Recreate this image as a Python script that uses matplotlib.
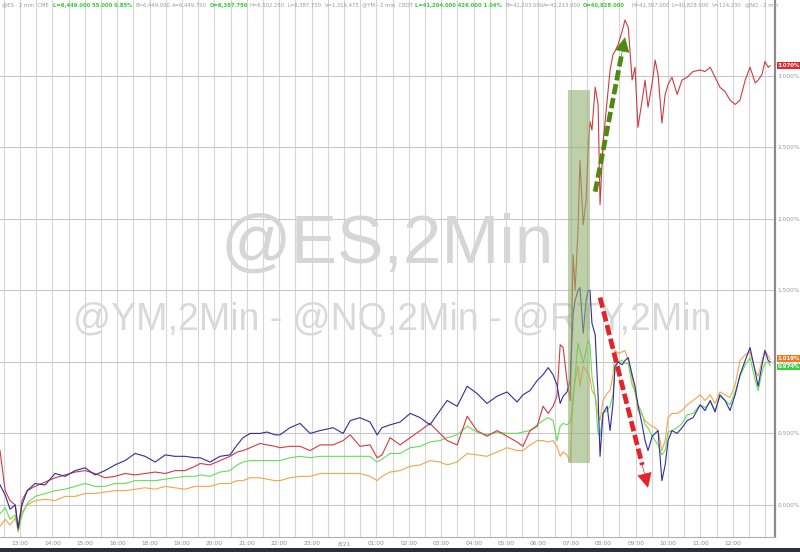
import matplotlib
matplotlib.use("Agg")
import matplotlib.pyplot as plt
import matplotlib.transforms as mtransforms
from matplotlib.patches import Rectangle

# trading hours since 13:00 (the 17:00-18:00 break is left out of the axis)
HOURS = [-0.62, -0.46, -0.31, -0.15, -0.06, 0.06, 0.22, 0.46, 0.77, 1.08,
         1.39, 1.70, 2.01, 2.31, 2.62, 2.93, 3.24, 3.55, 3.86, 4.17,
         4.48, 4.78, 5.09, 5.40, 5.56, 5.86, 6.17, 6.48, 6.70, 6.88,
         7.10, 7.41, 7.62, 7.87, 8.02, 8.33, 8.64, 8.95, 9.26, 9.66,
         9.97, 10.19, 10.49, 10.80, 11.02, 11.17, 11.42, 11.73, 12.04, 12.35,
         12.65, 12.96, 13.18, 13.49, 13.80, 14.10, 14.41, 14.72, 15.03, 15.34,
         15.52, 15.74, 15.96, 16.14, 16.30, 16.45, 16.57, 16.67, 16.76, 16.88,
         16.98, 17.07, 17.13, 17.22, 17.28, 17.38, 17.47, 17.53, 17.59, 17.65,
         17.75, 17.84, 17.90, 17.99, 18.12, 18.21, 18.30, 18.36, 18.46, 18.58,
         18.67, 18.77, 18.89, 18.98, 19.07, 19.20, 19.29, 19.38, 19.51, 19.60,
         19.69, 19.81, 19.91, 20.00, 20.12, 20.28, 20.43, 20.59, 20.77, 20.99,
         21.14, 21.30, 21.45, 21.60, 21.76, 21.91, 22.07, 22.22, 22.38, 22.53,
         22.69, 22.78, 22.90, 22.99, 23.09, 23.15]

# % change, one list per contract
RTY = [0.38, 0.10, 0.03, 0.00, -0.17, 0.03, 0.10, 0.13, 0.16, 0.19,
       0.21, 0.23, 0.24, 0.22, 0.19, 0.20, 0.22, 0.21, 0.22, 0.23,
       0.22, 0.24, 0.24, 0.27, 0.29, 0.28, 0.31, 0.34, 0.37, 0.38,
       0.40, 0.43, 0.42, 0.41, 0.40, 0.41, 0.41, 0.38, 0.42, 0.42,
       0.45, 0.49, 0.41, 0.42, 0.33, 0.35, 0.47, 0.42, 0.47, 0.52,
       0.57, 0.50, 0.45, 0.42, 0.62, 0.52, 0.48, 0.52, 0.48, 0.44,
       0.41, 0.52, 0.55, 0.69, 0.64, 0.69, 0.76, 1.12, 1.10, 0.87,
       0.73, 1.75, 1.50, 1.92, 2.41, 1.96, 2.13, 2.48, 2.68, 2.62,
       2.92, 2.80, 2.10, 2.52, 2.83, 3.04, 3.15, 3.17, 3.22, 3.31,
       3.39, 3.34, 2.97, 3.06, 2.64, 2.83, 2.97, 2.78, 2.95, 3.11,
       3.01, 2.67, 2.87, 2.94, 2.99, 2.87, 2.97, 2.99, 3.03, 3.04,
       3.03, 3.06, 2.99, 2.92, 2.89, 2.83, 2.80, 2.83, 2.97, 3.06,
       2.95, 2.97, 3.01, 3.10, 3.06, 3.07]

NQ = [0.14, 0.07, -0.03, 0.00, -0.16, 0.00, 0.10, 0.15, 0.14, 0.22,
      0.20, 0.24, 0.26, 0.21, 0.24, 0.28, 0.31, 0.36, 0.34, 0.30,
      0.35, 0.34, 0.34, 0.33, 0.33, 0.30, 0.34, 0.35, 0.42, 0.47,
      0.50, 0.50, 0.51, 0.49, 0.49, 0.54, 0.57, 0.50, 0.52, 0.54,
      0.50, 0.59, 0.61, 0.58, 0.49, 0.54, 0.56, 0.58, 0.64, 0.61,
      0.56, 0.66, 0.73, 0.69, 0.83, 0.78, 0.71, 0.76, 0.79, 0.72,
      0.77, 0.80, 0.87, 0.91, 0.96, 0.91, 0.84, 0.71, 0.76, 0.79,
      0.87, 1.34, 1.43, 1.50, 1.52, 1.20, 1.43, 1.50, 1.50, 1.27,
      1.19, 0.76, 0.34, 0.64, 0.69, 0.52, 0.71, 0.97, 1.00, 0.98,
      1.01, 1.03, 0.91, 0.83, 0.70, 0.56, 0.45, 0.38, 0.48, 0.50,
      0.52, 0.17, 0.28, 0.45, 0.52, 0.50, 0.54, 0.59, 0.61, 0.70,
      0.66, 0.73, 0.65, 0.77, 0.73, 0.66, 0.77, 0.91, 1.01, 1.10,
      0.93, 0.83, 0.98, 1.08, 1.01, 1.00]

ES = [-0.06, -0.02, -0.10, -0.07, -0.19, -0.07, 0.01, 0.06, 0.08, 0.10,
      0.11, 0.13, 0.15, 0.13, 0.13, 0.15, 0.15, 0.17, 0.17, 0.17,
      0.18, 0.19, 0.20, 0.20, 0.21, 0.20, 0.23, 0.24, 0.28, 0.30,
      0.31, 0.31, 0.31, 0.31, 0.31, 0.33, 0.34, 0.33, 0.34, 0.34,
      0.34, 0.34, 0.34, 0.34, 0.30, 0.32, 0.36, 0.36, 0.40, 0.41,
      0.44, 0.45, 0.47, 0.49, 0.55, 0.51, 0.49, 0.51, 0.50, 0.50,
      0.51, 0.52, 0.56, 0.59, 0.61, 0.59, 0.45, 0.55, 0.57, 0.56,
      0.58, 0.73, 0.90, 1.13, 1.08, 0.99, 1.08, 1.15, 1.12, 0.90,
      0.76, 0.50, 0.48, 0.64, 0.66, 0.69, 0.77, 0.94, 1.00, 1.01,
      0.99, 0.99, 0.84, 0.79, 0.70, 0.64, 0.56, 0.54, 0.48, 0.45,
      0.42, 0.35, 0.38, 0.51, 0.52, 0.54, 0.57, 0.63, 0.64, 0.70,
      0.68, 0.72, 0.66, 0.76, 0.73, 0.70, 0.79, 0.90, 0.98, 1.03,
      0.87, 0.80, 0.93, 0.99, 1.00, 0.974]

YM = [-0.15, -0.10, -0.14, -0.09, -0.17, -0.05, 0.00, 0.03, 0.04, 0.03,
      0.06, 0.06, 0.08, 0.08, 0.09, 0.10, 0.10, 0.11, 0.12, 0.11,
      0.13, 0.12, 0.11, 0.13, 0.13, 0.13, 0.15, 0.15, 0.17, 0.17,
      0.19, 0.19, 0.18, 0.17, 0.17, 0.19, 0.20, 0.20, 0.22, 0.22,
      0.22, 0.22, 0.22, 0.20, 0.17, 0.20, 0.23, 0.24, 0.27, 0.28,
      0.31, 0.30, 0.28, 0.30, 0.36, 0.35, 0.34, 0.37, 0.40, 0.38,
      0.38, 0.42, 0.45, 0.45, 0.44, 0.45, 0.41, 0.34, 0.37, 0.35,
      0.30, 0.76, 0.87, 0.97, 0.83, 0.97, 0.94, 0.92, 0.89, 0.80,
      0.76, 0.63, 0.59, 0.73, 0.78, 0.80, 0.91, 1.08, 1.06, 1.07,
      1.08, 1.01, 0.89, 0.79, 0.66, 0.63, 0.59, 0.57, 0.55, 0.54,
      0.52, 0.38, 0.45, 0.61, 0.64, 0.64, 0.66, 0.70, 0.73, 0.77,
      0.73, 0.77, 0.71, 0.79, 0.77, 0.75, 0.84, 1.01, 1.05, 1.07,
      0.94, 0.90, 1.01, 1.08, 1.04, 1.019]

TICK_LABELS = ["13:00", "14:00", "15:00", "16:00", "18:00", "19:00", "20:00",
               "21:00", "22:00", "23:00", "8/21", "01:00", "02:00", "03:00",
               "04:00", "05:00", "06:00", "07:00", "08:00", "09:00", "10:00",
               "11:00", "12:00"]
Y_TICKS = [0.0, 0.5, 1.0, 1.5, 2.0, 2.5, 3.0]

# highlighted window and the two hand-drawn arrows (hours, %)
SHADE_X = (16.91, 17.59)
SHADE_Y = (0.29, 2.90)
ARROW_UP = ((17.75, 2.19), (18.67, 3.27))
ARROW_DOWN = ((17.90, 1.45), (19.38, 0.12))

# last-value badges
BADGES = [("3.070%", 3.07, "#e3262e"), ("1.019%", 1.025, "#f07a22"),
          ("0.974%", 0.965, "#3ccf3c")]

HEADER = [
    ("@ES - 2 min  CME", 2, "#9a9a9a"),
    ("L=6,449.000 55.000 0.85%", 53, "#33cc33"),
    ("B=6,449.000", 136, "#9a9a9a"),
    ("A=6,449.750", 172, "#9a9a9a"),
    ("O=6,387.750", 210, "#33cc33"),
    ("H=6,502.250", 250, "#9a9a9a"),
    ("L=6,387.750", 287, "#9a9a9a"),
    ("V=1,316,475", 325, "#9a9a9a"),
    ("@YM - 2 min  CBOT", 362, "#9a9a9a"),
    ("L=41,204.000 426.000 1.04%", 415, "#33cc33"),
    ("B=41,203.000", 505, "#9a9a9a"),
    ("A=41,213.000", 543, "#9a9a9a"),
    ("O=40,828.000", 583, "#33cc33"),
    ("H=41,307.000", 632, "#9a9a9a"),
    ("L=40,828.000", 672, "#9a9a9a"),
    ("V=124,230", 712, "#9a9a9a"),
    ("@NQ - 2 min", 745, "#9a9a9a"),
]

W, H = 800, 552
fig = plt.figure(figsize=(W / 100, H / 100), dpi=100, facecolor="white")
ax = fig.add_axes([0, 15 / H, 775 / W, 1 - 15 / H])
ax.set_facecolor("white")

ax.set_xlim(-0.62, 23.3)
ax.set_ylim(-0.224, 3.53)

# grid: half-hour verticals, 0.5% horizontals
for k in range(-1, 47):
    ax.axvline(k * 0.5, color="#d6d6d6", lw=0.8, zorder=0)
for v in Y_TICKS:
    ax.axhline(v, color="#c8c8c8", lw=0.8, zorder=0)

# watermarks
ax.text(0.5, 0.545, "@ES,2Min", transform=ax.transAxes, ha="center", va="center",
        fontsize=50, family="Liberation Sans", color="#d6d6d6", zorder=1)
ax.text(0.506, 0.405, "@YM,2Min - @NQ,2Min - @RTY,2Min", transform=ax.transAxes,
        ha="center", va="center", fontsize=27, family="Liberation Sans",
        color="#d9d9d9", zorder=1)

ax.plot(HOURS, YM, color="#f2a54a", lw=0.8, zorder=3)
ax.plot(HOURS, ES, color="#66dd55", lw=0.8, zorder=3)
ax.plot(HOURS, RTY, color="#d13a40", lw=0.8, zorder=3)
ax.plot(HOURS, NQ, color="#2e2e9e", lw=0.8, zorder=3)

ax.add_patch(Rectangle((SHADE_X[0], SHADE_Y[0]), SHADE_X[1] - SHADE_X[0],
                       SHADE_Y[1] - SHADE_Y[0], facecolor="#93b170", alpha=0.6,
                       edgecolor="none", zorder=4))


def dashed_arrow(start, end, color):
    (x0, y0), (x1, y1) = start, end
    f = 0.88
    xm, ym = x0 + (x1 - x0) * f, y0 + (y1 - y0) * f
    ax.plot([x0, xm], [y0, ym], color=color, lw=3.4, dashes=(2.2, 0.8),
            dash_capstyle="butt", zorder=6)
    ax.annotate("", xy=(x1, y1), xytext=(xm, ym),
                arrowprops=dict(arrowstyle="-|>,head_width=0.4,head_length=0.8",
                                color=color, lw=0.5, mutation_scale=12,
                                shrinkA=0, shrinkB=0), zorder=6)


dashed_arrow(*ARROW_UP, "#4e8a12")
dashed_arrow(*ARROW_DOWN, "#e4222a")

# axes furniture
for side in ("top", "left"):
    ax.spines[side].set_visible(False)
ax.spines["right"].set_color("#8a8a8a")
ax.spines["right"].set_linewidth(1.6)
ax.spines["bottom"].set_color("#b0b0b0")
ax.spines["bottom"].set_linewidth(0.8)

ax.set_xticks(range(len(TICK_LABELS)))
ax.set_xticklabels(TICK_LABELS, fontsize=4.2, color="#8a8a8a")
ax.tick_params(axis="x", length=0, pad=3)

ax.yaxis.tick_right()
ax.set_yticks(Y_TICKS)
ax.set_yticklabels([f"{v:.3f}%" for v in Y_TICKS], fontsize=4.2, color="#9a9a9a")
ax.tick_params(axis="y", length=0, pad=2)

trans = mtransforms.blended_transform_factory(ax.transAxes, ax.transData)
for label, val, color in BADGES:
    ax.text(1.003, val, label, transform=trans, ha="left", va="center",
            fontsize=3.9, color="white", fontweight="bold", clip_on=False,
            zorder=10,
            bbox=dict(boxstyle="square,pad=0.15", facecolor=color, edgecolor="none"))

for text, px, color in HEADER:
    fig.text(px / W, 1 - 5 / H, text, ha="left", va="center", fontsize=3.8,
             color=color, fontweight="bold" if color != "#9a9a9a" else "normal")

# dark strip along the bottom edge
fig.add_artist(Rectangle((0, 0), 1, 4 / H, transform=fig.transFigure,
                         facecolor="#2b2f3a", edgecolor="none"))

fig.savefig("out.png", dpi=100)
